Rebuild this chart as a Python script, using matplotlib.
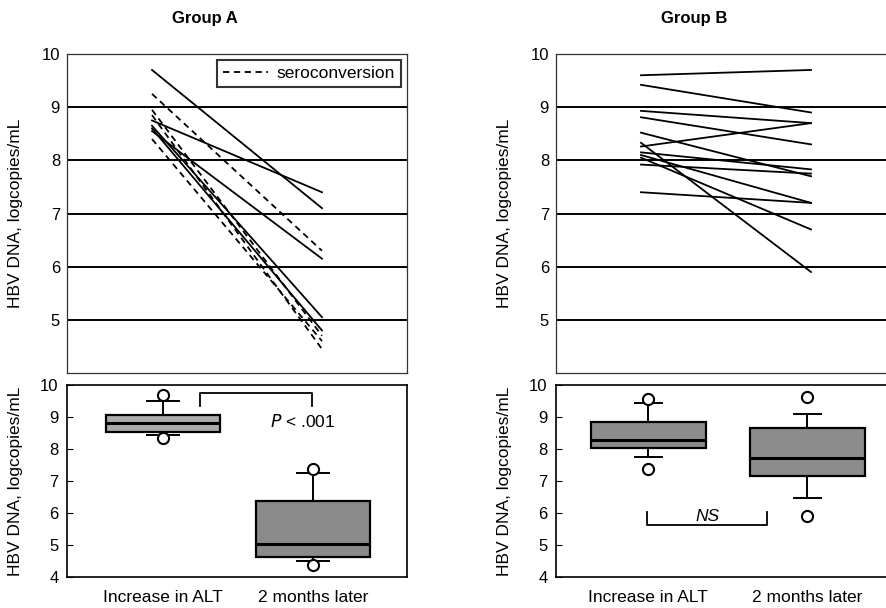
import matplotlib
matplotlib.use("Agg")
import matplotlib.pyplot as plt
from matplotlib.lines import Line2D

plt.rcParams['font.family'] = ['Liberation Sans', 'DejaVu Sans']

# ---------------- data ----------------
categories = ["Increase in ALT", "2 months later"]
titles = ["Group A", "Group B"]
ylabel = "HBV DNA, logcopies/mL"

# Group A paired lines
A_start_solid = [9.70, 8.75, 8.55, 8.65, 8.60]
A_end_solid = [7.10, 7.40, 6.15, 5.05, 4.80]
A_start_dash = [9.25, 8.95, 8.85, 8.40]
A_end_dash = [6.30, 4.70, 4.45, 4.60]

# Group B paired lines
B_start = [9.60, 9.42, 8.93, 8.81, 8.52, 8.26, 8.33, 8.15, 8.10, 8.05, 7.92, 7.40]
B_end = [9.70, 8.90, 8.70, 8.30, 7.70, 8.70, 5.90, 7.83, 7.20, 6.70, 7.75, 7.20]

# Box statistics (med, q1, q3, whislo, whishi, fliers)
A_med = [8.81, 5.02]
A_q1 = [8.53, 4.63]
A_q3 = [9.06, 6.38]
A_whislo = [8.44, 4.50]
A_whishi = [9.50, 7.26]
A_fliers = [[9.69, 8.34], [7.37, 4.37]]

B_med = [8.28, 7.73]
B_q1 = [8.02, 7.17]
B_q3 = [8.85, 8.67]
B_whislo = [7.74, 6.46]
B_whishi = [9.45, 9.09]
B_fliers = [[9.56, 7.37], [9.61, 5.92]]

A_pvalue = "< .001"
B_pvalue = "NS"

# ---------------- figure ----------------
W, H = 887, 608
fig = plt.figure(figsize=(W / 100, H / 100), dpi=100)


def ax_rect(left, top, width, height):
    return [left / W, (H - top - height) / H, width / W, height / H]


axTA = fig.add_axes(ax_rect(67, 54, 340, 319))
axBA = fig.add_axes(ax_rect(67, 385, 340, 192))
axTB = fig.add_axes(ax_rect(556, 54, 340, 319))
axBB = fig.add_axes(ax_rect(556, 385, 340, 192))

FS_TICK = 12
FS_LAB = 12.5


def style_top(ax):
    ax.set_xlim(0.5, 2.5)
    ax.set_ylim(4, 10)
    ax.set_yticks([5, 6, 7, 8, 9, 10])
    ax.set_xticks([])
    ax.tick_params(axis='y', length=0, labelsize=FS_TICK, pad=5)
    for y in [5, 6, 7, 8, 9]:
        ax.axhline(y, color='black', lw=1.4, zorder=1)
    for s in ax.spines.values():
        s.set_linewidth(0.9)
        s.set_color('#333333')
    ax.set_ylabel(ylabel, fontsize=FS_LAB)
    ax.yaxis.set_label_coords(-0.13, 0.5)


def style_bottom(ax, xlim):
    ax.set_xlim(*xlim)
    ax.set_ylim(4, 10)
    ax.set_yticks([4, 5, 6, 7, 8, 9, 10])
    ax.set_xticks([1, 2])
    ax.set_xticklabels(categories, fontsize=FS_LAB)
    ax.tick_params(axis='x', length=0, pad=9)
    ax.tick_params(axis='y', direction='in', length=4, labelsize=FS_TICK, pad=6)
    for s in ax.spines.values():
        s.set_linewidth(1.2)
    ax.set_ylabel(ylabel, fontsize=FS_LAB)
    ax.yaxis.set_label_coords(-0.13, 0.5)


# ----- top A -----
style_top(axTA)
for s, e in zip(A_start_solid, A_end_solid):
    axTA.plot([1, 2], [s, e], color='black', lw=1.3, zorder=3)
for s, e in zip(A_start_dash, A_end_dash):
    axTA.plot([1, 2], [s, e], color='black', lw=1.3, ls=(0, (3.5, 2.5)), zorder=3)
leg_handle = Line2D([], [], color='black', lw=1.3, ls=(0, (3.5, 2.5)))
leg = axTA.legend([leg_handle], ["seroconversion"], loc='upper right',
                  fontsize=12.5, frameon=True, fancybox=False,
                  borderaxespad=0.35, handlelength=2.6, handletextpad=0.5,
                  borderpad=0.35)
leg.get_frame().set_edgecolor('black')
leg.get_frame().set_linewidth(1.5)

# ----- top B -----
style_top(axTB)
for s, e in zip(B_start, B_end):
    axTB.plot([1, 2], [s, e], color='black', lw=1.3, zorder=3)

# ----- boxplots -----
def make_stats(med, q1, q3, lo, hi, fl):
    return [dict(med=med[i], q1=q1[i], q3=q3[i], whislo=lo[i], whishi=hi[i],
                 fliers=fl[i]) for i in range(len(med))]


def draw_box(ax, stats, width, capw, colors):
    bp = ax.bxp(stats, positions=[1, 2], widths=width, patch_artist=True,
                showfliers=True, capwidths=capw, manage_ticks=False,
                boxprops=dict(linewidth=1.6, edgecolor='black'),
                medianprops=dict(color='black', linewidth=2.2),
                whiskerprops=dict(color='black', linewidth=1.4),
                capprops=dict(color='black', linewidth=1.4),
                flierprops=dict(marker='o', markerfacecolor='white',
                                markeredgecolor='black', markersize=8,
                                markeredgewidth=1.5))
    for patch, c in zip(bp['boxes'], colors):
        patch.set_facecolor(c)


draw_box(axBA, make_stats(A_med, A_q1, A_q3, A_whislo, A_whishi, A_fliers),
         0.76, 0.213, ['#ababab', '#8a8a8a'])
style_bottom(axBA, (0.36, 2.627))
# significance bracket A
axBA.plot([1.247, 1.247, 1.993, 1.993], [9.35, 9.75, 9.75, 9.35],
          color='black', lw=1.3)
axBA.text(1.933, 8.87, "$P$ " + A_pvalue, ha='center', va='center',
          fontsize=12.5)

draw_box(axBB, make_stats(B_med, B_q1, B_q3, B_whislo, B_whishi, B_fliers),
         0.723, 0.17, ['#8c8c8c', '#8c8c8c'])
style_bottom(axBB, (0.421, 2.559))
axBB.plot([0.993, 0.993, 1.748, 1.748], [6.03, 5.62, 5.62, 6.03],
          color='black', lw=1.3)
axBB.text(1.371, 5.66, B_pvalue, ha='center', va='bottom', fontsize=12.5,
          style='italic')

# titles
fig.text(205 / W, 1 - 18 / H, titles[0], ha='center', va='center',
         fontsize=12, fontweight='bold')
fig.text(694 / W, 1 - 18 / H, titles[1], ha='center', va='center',
         fontsize=12, fontweight='bold')

fig.savefig("out.png", dpi=100)
